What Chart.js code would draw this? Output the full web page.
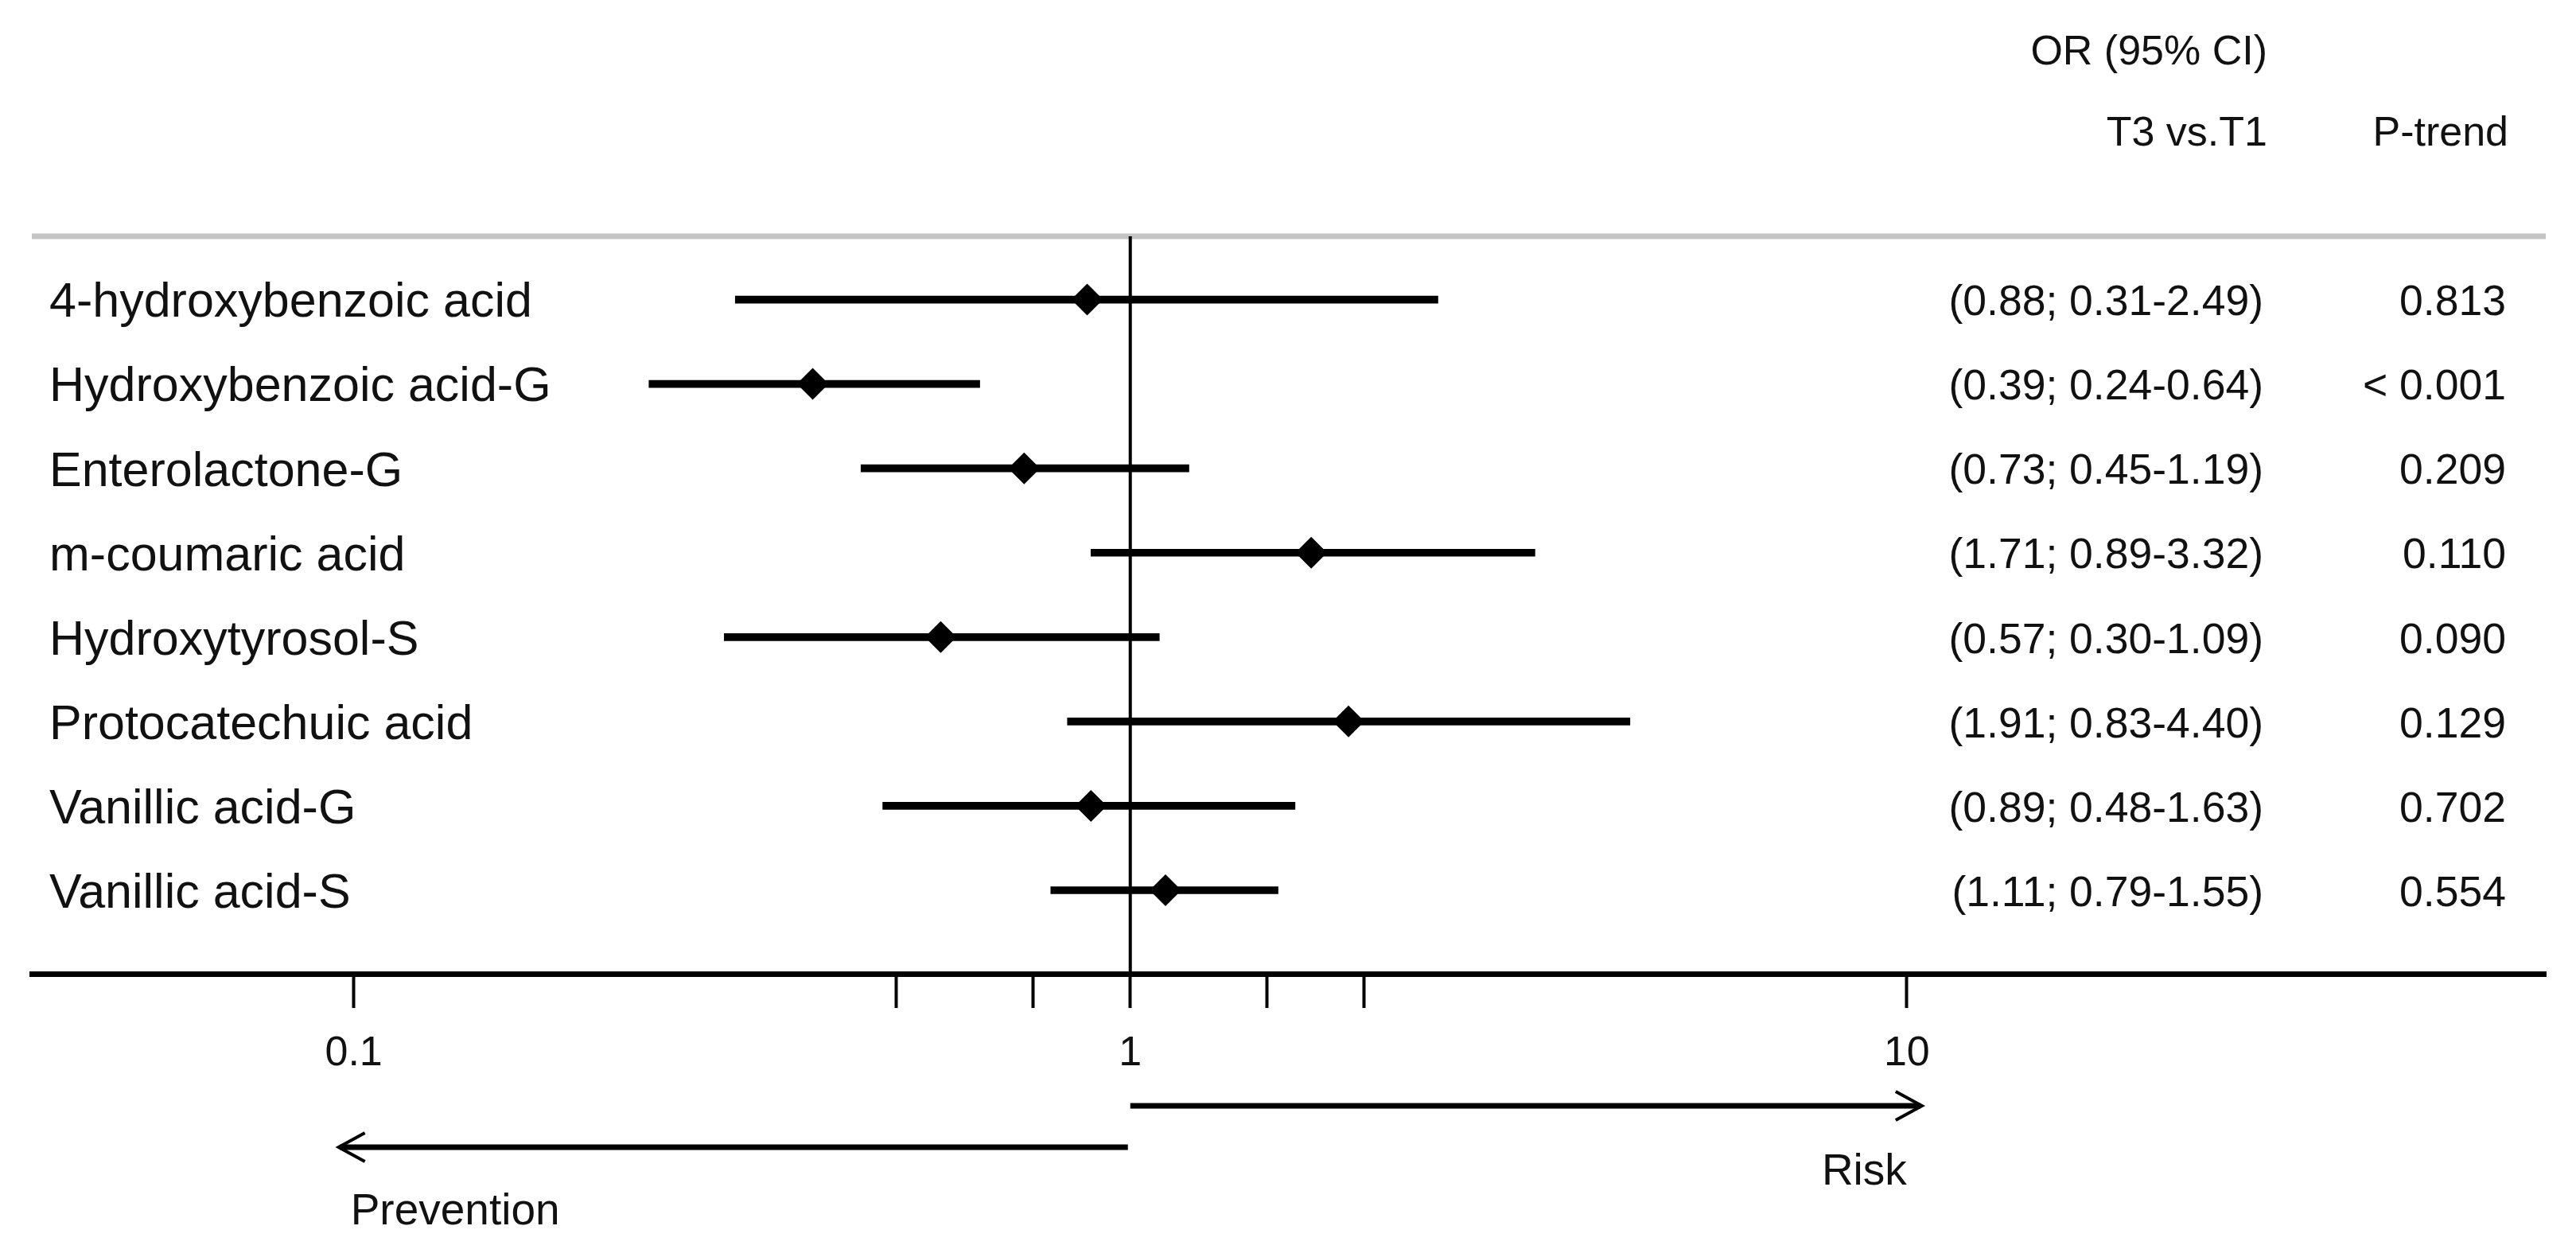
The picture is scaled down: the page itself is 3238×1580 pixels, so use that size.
<!DOCTYPE html>
<html>
<head>
<meta charset="utf-8">
<script src="https://cdn.jsdelivr.net/npm/chart.js@4.4.1/dist/chart.umd.min.js"></script>
<style>
  body { margin: 0; background: #fff; }
  #chart { display: block; }
</style>
</head>
<body>
<canvas id="chart" width="3238" height="1580" style="width:3238px;height:1580px"></canvas>
<script>
// forest plot data
const Compounds = ["4-hydroxybenzoic acid", "Hydroxybenzoic acid-G", "Enterolactone-G", "m-coumaric acid",
    "Hydroxytyrosol-S", "Protocatechuic acid", "Vanillic acid-G", "Vanillic acid-S"]
const OddsRatios = [0.88, 0.39, 0.73, 1.71, 0.57, 1.91, 0.89, 1.11]
const CiLow = [0.31, 0.24, 0.45, 0.89, 0.30, 0.83, 0.48, 0.79]
const CiHigh = [2.49, 0.64, 1.19, 3.32, 1.09, 4.40, 1.63, 1.55]
const PTrend = ["0.813", "< 0.001", "0.209", "0.110", "0.090", "0.129", "0.702", "0.554"]
const AxisTicks = [0.1, 0.5, 0.75, 1, 1.5, 2, 10]
const AxisLabels = [0.1, 1, 10]

const Font = "'Liberation Sans', Arial, sans-serif"
const Rows = Compounds.map((_, i) => i + 1)

const CiBars = Rows.map((Row, i) => ({y: Row, x: [CiLow[i], CiHigh[i]]}))
const Points = Rows.map((Row, i) => ({y: Row, x: OddsRatios[i]}))

function Line(ctx, X1, Y1, X2, Y2){
    ctx.beginPath()
    ctx.moveTo(X1, Y1)
    ctx.lineTo(X2, Y2)
    ctx.stroke()
}

const ForestExtras = {
    id: "forestExtras",
    beforeDatasetsDraw(chart){
        const {ctx, chartArea, scales} = chart
        const X1 = scales.x.getPixelForValue(1)
        ctx.save()
        ctx.strokeStyle = "#c4c4c4"
        ctx.lineWidth = 7
        Line(ctx, chartArea.left, chartArea.top, chartArea.right, chartArea.top)
        ctx.strokeStyle = "#000"
        ctx.lineWidth = 4
        Line(ctx, X1, chartArea.top, X1, chartArea.bottom)
        ctx.restore()
    },
    afterDraw(chart){
        const {ctx, scales} = chart
        const X = scales.x, Y = scales.y
        ctx.save()
        ctx.fillStyle = "#111"
        ctx.textBaseline = "middle"

        // headers
        ctx.font = "52px " + Font
        ctx.textAlign = "right"
        ctx.fillText("OR (95% CI)", 2850, 67)
        ctx.fillText("T3 vs.T1", 2850, 169)
        ctx.fillText("P-trend", 3153, 169)

        // row texts
        Rows.forEach(function(Row, i){
            const Py = Y.getPixelForValue(Row) + 5
            ctx.font = "61px " + Font
            ctx.textAlign = "left"
            ctx.fillText(Compounds[i], 62, Py)
            ctx.font = "53.5px " + Font
            ctx.textAlign = "right"
            ctx.fillText("(" + OddsRatios[i].toFixed(2) + "; " + CiLow[i].toFixed(2) + "-" + CiHigh[i].toFixed(2) + ")", 2845, Py)
            ctx.fillText(PTrend[i], 3150, Py)
        })

        // direction arrows
        const P1 = X.getPixelForValue(1), P10 = X.getPixelForValue(10), P01 = X.getPixelForValue(0.1)
        ctx.strokeStyle = "#000"
        ctx.lineWidth = 7
        Line(ctx, P1, 1390, P10 + 17, 1390)
        Line(ctx, P1 - 3, 1442, P01 - 17, 1442)
        ctx.lineWidth = 4
        ctx.beginPath()
        ctx.moveTo(P10 - 14, 1372); ctx.lineTo(P10 + 19, 1390); ctx.lineTo(P10 - 14, 1408)
        ctx.stroke()
        ctx.beginPath()
        ctx.moveTo(P01 + 14, 1424); ctx.lineTo(P01 - 19, 1442); ctx.lineTo(P01 + 14, 1460)
        ctx.stroke()

        ctx.font = "55px " + Font
        ctx.textAlign = "right"
        ctx.fillText("Risk", P10, 1474)
        ctx.textAlign = "left"
        ctx.fillText("Prevention", P01 - 4, 1524)
        ctx.restore()
    }
}

new Chart(document.getElementById("chart"), {
    type: "bar",
    data: {
        datasets: [
            {
                type: "scatter",
                data: Points,
                pointStyle: "rectRot",
                pointRadius: 20,
                pointHoverRadius: 20,
                backgroundColor: "#000",
                borderWidth: 0,
                order: 0
            },
            {
                type: "bar",
                indexAxis: "y",
                data: CiBars,
                backgroundColor: "#000",
                barThickness: 9,
                borderWidth: 0,
                order: 1
            }
        ]
    },
    options: {
        responsive: false,
        animation: false,
        devicePixelRatio: 1,
        indexAxis: "y",
        layout: {padding: {left: 40, right: 38, top: 297, bottom: 0}},
        plugins: {legend: {display: false}, tooltip: {enabled: false}},
        scales: {
            x: {
                type: "logarithmic",
                position: "bottom",
                min: 0.0385,
                max: 66.5,
                bounds: "data",
                offset: false,
                afterBuildTicks: function(Scale){
                    Scale.ticks = AxisTicks.map(v => ({value: v}))
                },
                afterFit: function(Scale){
                    Scale.height = 356
                },
                ticks: {
                    autoSkip: false,
                    maxRotation: 0,
                    padding: 26,
                    color: "#111",
                    font: {family: Font, size: 52},
                    callback: v => AxisLabels.includes(v) ? String(v) : ""
                },
                grid: {
                    drawOnChartArea: false,
                    drawTicks: true,
                    tickLength: 43,
                    tickWidth: 4,
                    tickColor: "#000",
                    offset: false
                },
                border: {display: true, color: "#000", width: 7}
            },
            y: {
                type: "linear",
                display: false,
                reverse: true,
                min: 0.25,
                max: 8.99,
                offset: false,
                grid: {offset: false}
            }
        }
    },
    plugins: [ForestExtras]
})
</script>
</body>
</html>
